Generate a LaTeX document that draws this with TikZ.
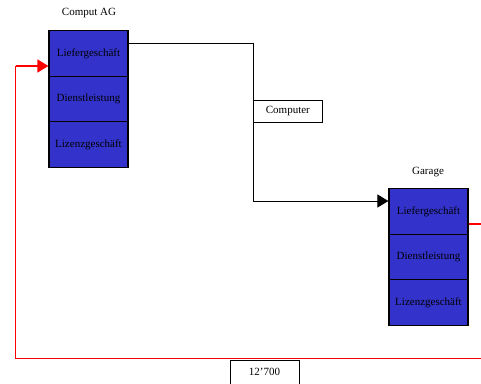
\documentclass[tikz,border=0pt]{standalone}
\usepackage{fontspec}
\setmainfont{Liberation Serif}
\usetikzlibrary{arrows.meta,calc}
\definecolor{cellblue}{RGB}{51,51,204}
\begin{document}
\begin{tikzpicture}[x=1pt,y=-1pt,
  txt/.style={font=\fontsize{11}{13}\selectfont},
  cell/.style={txt,draw=black,line width=1.2pt,fill=cellblue,minimum width=79pt,minimum height=45.5pt,inner sep=0pt,text=black},
  title/.style={txt,inner sep=0pt},
  labelbox/.style={txt,draw=black,line width=0.8pt,fill=white,inner sep=0pt},
  flow/.style={draw=black,line width=1pt,-{Triangle[length=11pt,width=13pt]}},
  back/.style={draw=red,line width=1.5pt}]
\useasboundingbox (0,0) rectangle (481,383);
% left stack
\node[title] (tA) at (89,13) {Comput AG};
\node[cell] (a1) at (88.5,53.5) {Liefergeschäft};
\node[cell] (a2) at (88.5,99) {Dienstleistung};
\node[cell] (a3) at (88.5,144.5) {Lizenzgeschäft};
% right stack
\node[title] (tB) at (428,172) {Garage};
\node[cell] (b1) at (428.5,211.5) {Liefergeschäft};
\node[cell] (b2) at (428.5,257) {Dienstleistung};
\node[cell] (b3) at (428.5,302.5) {Lizenzgeschäft};
% black connector
\coordinate (k1) at (253,43);
\coordinate (k2) at (253,201);
\draw[flow] (a1.east |- k1) -- (k1) -- (k2) -- (b1.west |- k2);
\node[labelbox,minimum width=69pt,minimum height=22pt,anchor=north west] (comp) at (253,100) {Computer};
% red loop
\coordinate (r1) at (481,224);
\coordinate (r2) at (481,358.5);
\coordinate (r3) at (15.5,358.5);
\coordinate (r4) at (15.5,66);
\draw[back] (b1.east |- r1) -- (r1);
\draw[back] (r2) -- (r3) -- (r4);
\draw[back,-{Triangle[length=11pt,width=13pt]}] (r4) -- (a1.west |- r4);
\node[labelbox,minimum width=69pt,minimum height=30pt,anchor=north west] (amt) at (230,360) {};
\node[txt,inner sep=0pt] (amtt) at (264.5,371.5) {12’700};
\end{tikzpicture}
\end{document}
